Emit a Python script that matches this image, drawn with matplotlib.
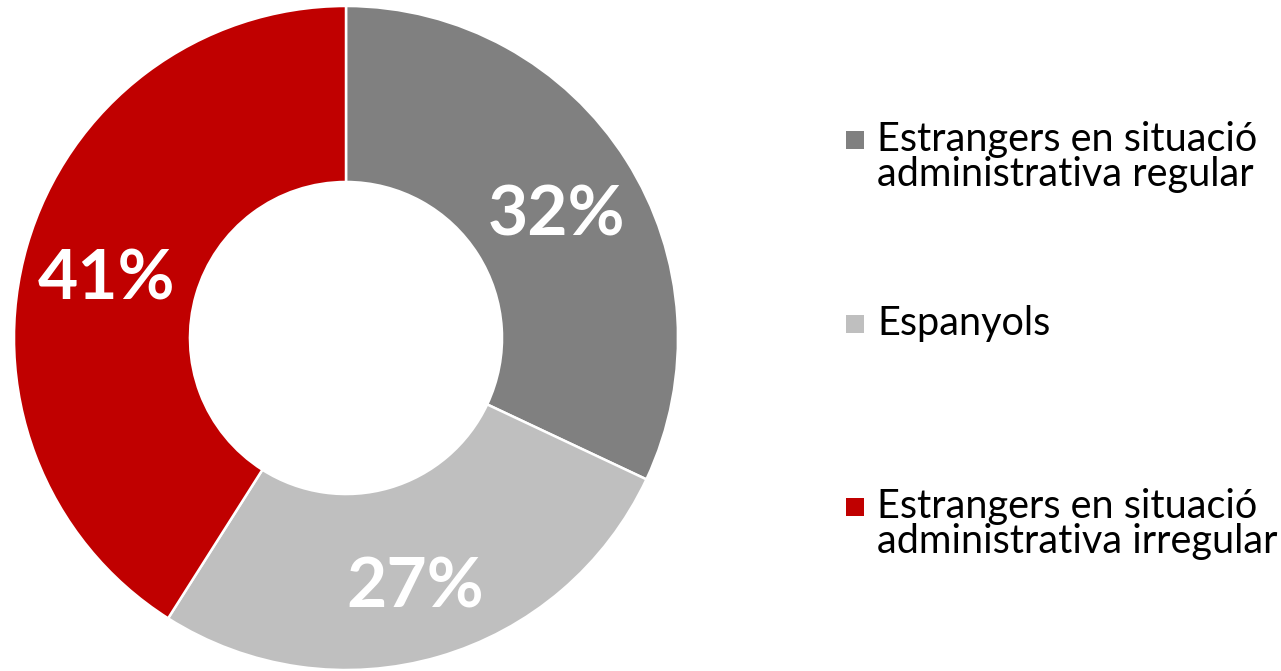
import matplotlib
matplotlib.use("Agg")
import matplotlib.pyplot as plt
from matplotlib.patches import Rectangle
from matplotlib.transforms import offset_copy

categories = ["Estrangers en situació\nadministrativa regular",
              "Espanyols",
              "Estrangers en situació\nadministrativa irregular"]
values = [32, 27, 41]
colors = ["#808080", "#BFBFBF", "#C00000"]

W, H = 1281, 671
fig = plt.figure(figsize=(W / 100, H / 100), dpi=100)
fig.patch.set_facecolor("white")

cx, cy, R = 346, 338, 332
ax = fig.add_axes([(cx - R) / W, (H - cy - R) / H, 2 * R / W, 2 * R / H])

wedges, texts, autotexts = ax.pie(
    values, colors=colors, startangle=90, counterclock=False, radius=1,
    wedgeprops=dict(width=0.53, edgecolor="white", linewidth=1.8),
    autopct=lambda p: f"{p:.0f}%", pctdistance=0.75,
    textprops=dict(color="white", fontsize=50, fontweight="bold", family="Lato"))
for t in autotexts:
    t.set_transform(offset_copy(ax.transData, fig=fig, x=0, y=-11, units="dots"))
ax.set_xlim(-1, 1)
ax.set_ylim(-1, 1)
ax.set_aspect("equal")
ax.axis("off")

# manual legend
first_line_centers = [140, 324, 507]
for cat, col, yc in zip(categories, colors, first_line_centers):
    sq = 18
    fig.patches.append(Rectangle((846 / W, (H - yc - sq / 2) / H), sq / W, sq / H,
                                 transform=fig.transFigure, facecolor=col,
                                 edgecolor="none"))
    fig.text(877 / W, (H - yc + 19) / H, cat, ha="left", va="top",
             fontsize=28.5, family="Lato", color="black", linespacing=0.93)

fig.savefig("out.png", dpi=100, facecolor="white")
